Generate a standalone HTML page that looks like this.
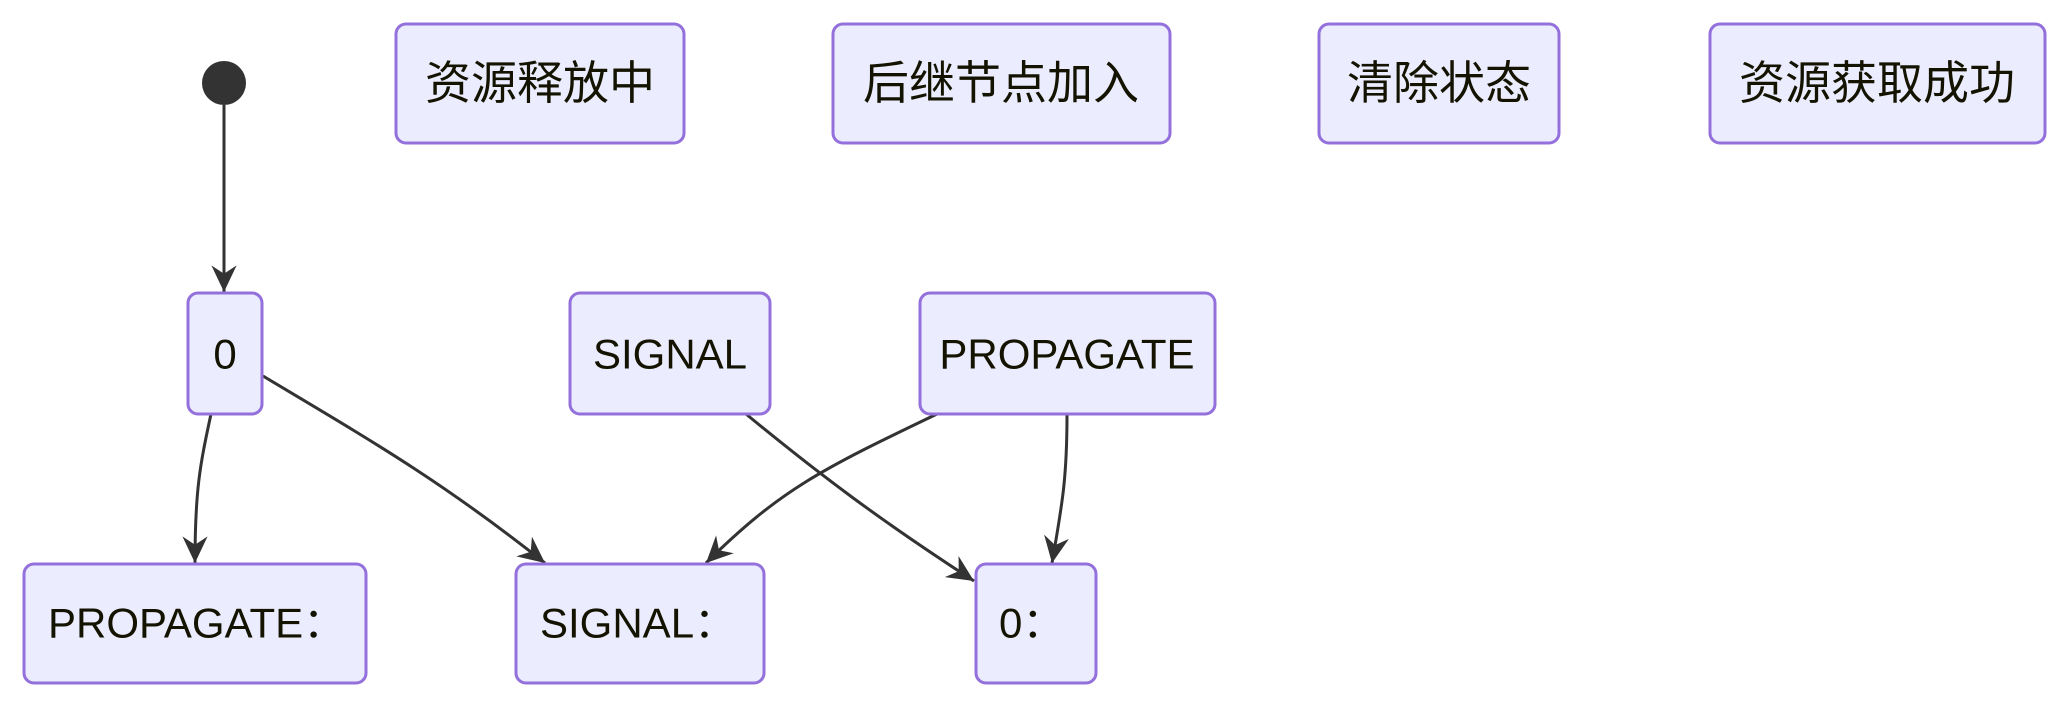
<!DOCTYPE html>
<html><head><meta charset="utf-8"><style>
html,body{margin:0;padding:0;background:#fff;}
svg{display:block}
.n{fill:#ECECFF;stroke:#9370DB;stroke-width:3}
.t{font-family:"Liberation Sans","Noto Sans CJK SC",sans-serif;fill:#131300;font-size:42px;dominant-baseline:central}
.c{font-size:46px}
.e{fill:none;stroke:#333;stroke-width:3}
</style></head><body>
<svg width="2070" height="708" viewBox="0 0 2070 708" xmlns="http://www.w3.org/2000/svg">
<defs>
<marker id="a" viewBox="0 0 12 12" refX="11" refY="6" markerWidth="12" markerHeight="12" markerUnits="userSpaceOnUse" orient="auto">
<path d="M0,0 L12,6 L0,12 L4,6 Z" fill="#333"/>
</marker>
<marker id="b" viewBox="0 0 20 20" refX="19" refY="10" markerWidth="28" markerHeight="28" markerUnits="userSpaceOnUse" orient="auto">
<path d="M0,1 L19,10 L0,19 L6,10 Z" fill="#333"/>
</marker>
</defs>
<circle cx="224" cy="83" r="22" fill="#333"/>
<path class="e" d="M224,105 L224,292" marker-end="url(#b)"/>
<path class="e" d="M211,414 C200,465 195,490 195,563" marker-end="url(#b)"/>
<path class="e" d="M263,376 C370,440 440,480 545,563" marker-end="url(#b)"/>
<path class="e" d="M746,414 C820,475 880,520 974,581" marker-end="url(#b)"/>
<path class="e" d="M937,414 C820,470 780,490 706,563" marker-end="url(#b)"/>
<path class="e" d="M1067,414 C1067,480 1062,505 1052,563" marker-end="url(#b)"/>

<rect class="n" x="396" y="24" width="288" height="119" rx="10"/>
<text class="t c" x="540" y="83" text-anchor="middle">资源释放中</text>
<rect class="n" x="833" y="24" width="337" height="119" rx="10"/>
<text class="t c" x="1001" y="83" text-anchor="middle">后继节点加入</text>
<rect class="n" x="1319" y="24" width="240" height="119" rx="10"/>
<text class="t c" x="1439" y="83" text-anchor="middle">清除状态</text>
<rect class="n" x="1710" y="24" width="335" height="119" rx="10"/>
<text class="t c" x="1877" y="83" text-anchor="middle">资源获取成功</text>

<rect class="n" x="188" y="293" width="74" height="121" rx="10"/>
<text class="t" x="225" y="354" text-anchor="middle">0</text>
<rect class="n" x="570" y="293" width="200" height="121" rx="10"/>
<text class="t" x="670" y="354" text-anchor="middle">SIGNAL</text>
<rect class="n" x="920" y="293" width="295" height="121" rx="10"/>
<text class="t" x="1067" y="354" text-anchor="middle">PROPAGATE</text>

<rect class="n" x="24" y="564" width="342" height="119" rx="10"/>
<text class="t" x="48" y="623">PROPAGATE：</text>
<rect class="n" x="516" y="564" width="248" height="119" rx="10"/>
<text class="t" x="540" y="623">SIGNAL：</text>
<rect class="n" x="976" y="564" width="120" height="119" rx="10"/>
<text class="t" x="999" y="623">0：</text>
</svg>
</body></html>
